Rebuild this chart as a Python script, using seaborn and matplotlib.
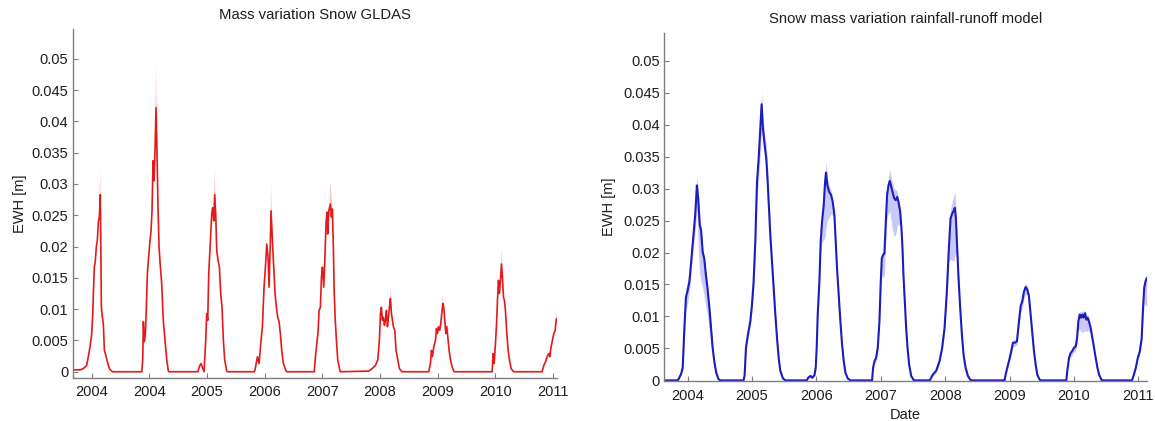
import numpy as np
import seaborn as sns
import matplotlib
matplotlib.use("Agg")
import matplotlib.pyplot as plt
from matplotlib.ticker import FuncFormatter

nan = np.nan

# ---- GLDAS snow (left panel), decimal years ----
gldas_year = [
    2002.67, 2002.80, 2002.855, 2002.913, 2002.942, 2002.971, 2003.000, 2003.017, 2003.029,
    2003.046, 2003.064, 2003.081, 2003.098, 2003.116, 2003.133, 2003.150, 2003.168, 2003.185,
    2003.202, 2003.220, 2003.243, 2003.272, 2003.306, 2003.347, 2003.36,
    2003.87, 2003.885, 2003.896, 2003.913, 2003.931, 2003.948, 2003.965, 2003.983, 2004.012,
    2004.029, 2004.046, 2004.064, 2004.081, 2004.098, 2004.116, 2004.133, 2004.150, 2004.168,
    2004.185, 2004.214, 2004.243, 2004.272, 2004.301, 2004.329, 2004.34,
    2004.84, 2004.875, 2004.895, 2004.92, 2004.948, 2004.977, 2004.994, 2005.012, 2005.029,
    2005.046, 2005.064, 2005.081, 2005.098, 2005.116, 2005.133, 2005.150, 2005.168, 2005.191,
    2005.214, 2005.237, 2005.260, 2005.283, 2005.306, 2005.341, 2005.36,
    2005.82, 2005.832, 2005.873, 2005.902, 2005.936, 2005.960, 2005.988, 2006.012, 2006.035,
    2006.058, 2006.075, 2006.098, 2006.110, 2006.133, 2006.156, 2006.179, 2006.202, 2006.225,
    2006.249, 2006.272, 2006.295, 2006.324, 2006.370, 2006.38,
    2006.86, 2006.879, 2006.908, 2006.925, 2006.942, 2006.965, 2006.983, 2007.000, 2007.023,
    2007.040, 2007.064, 2007.081, 2007.092, 2007.110, 2007.139, 2007.156, 2007.173, 2007.191,
    2007.202, 2007.220, 2007.243, 2007.266, 2007.301, 2007.31,
    2007.803, 2007.861, 2007.919, 2007.960, 2007.988, 2008.006, 2008.023, 2008.040, 2008.058,
    2008.075, 2008.092, 2008.110, 2008.127, 2008.145, 2008.162, 2008.179, 2008.197, 2008.214,
    2008.231, 2008.254, 2008.277, 2008.306, 2008.335, 2008.370, 2008.38,
    2008.844, 2008.873, 2008.890, 2008.908, 2008.931, 2008.960, 2008.977, 2008.994, 2009.012,
    2009.035, 2009.052, 2009.069, 2009.087, 2009.104, 2009.121, 2009.139, 2009.156, 2009.173,
    2009.197, 2009.220, 2009.249, 2009.277, 2009.29,
    2009.942, 2009.960, 2009.977, 2010.000, 2010.017, 2010.035, 2010.052, 2010.069, 2010.087,
    2010.104, 2010.121, 2010.139, 2010.156, 2010.173, 2010.197, 2010.220, 2010.243, 2010.272,
    2010.306, 2010.32,
    2010.809, 2010.838, 2010.867, 2010.896, 2010.925, 2010.942, 2010.965, 2010.988, 2011.012,
    2011.035, 2011.047, 2011.058,
]
gldas_ewh = [
    0.0003, 0.0003, 0.0005, 0.0010, 0.0024, 0.0040, 0.0060, 0.0090, 0.0125,
    0.0167, 0.0178, 0.0200, 0.0210, 0.0240, 0.0247, 0.0283, 0.0103, 0.0087,
    0.0077, 0.0034, 0.0027, 0.0016, 0.0005, 0.0001, 0.0,
    0.0, 0.0020, 0.0080, 0.0048, 0.0060, 0.0103, 0.0156, 0.0178, 0.0210,
    0.0225, 0.0257, 0.0337, 0.0305, 0.0353, 0.0422, 0.0347, 0.0262, 0.0199,
    0.0175, 0.0140, 0.0080, 0.0050, 0.0019, 0.0001, 0.0,
    0.0, 0.0010, 0.0013, 0.0007, 0.0000, 0.0050, 0.0093, 0.0082, 0.0156,
    0.0188, 0.0220, 0.0252, 0.0262, 0.0241, 0.0283, 0.0252, 0.0194, 0.0178,
    0.0167, 0.0125, 0.0103, 0.0050, 0.0019, 0.0001, 0.0,
    0.0, 0.0003, 0.0024, 0.0013, 0.0050, 0.0072, 0.0135, 0.0167, 0.0204,
    0.0183, 0.0135, 0.0210, 0.0257, 0.0210, 0.0167, 0.0125, 0.0103, 0.0087,
    0.0080, 0.0060, 0.0034, 0.0013, 0.0001, 0.0,
    0.0, 0.0024, 0.0050, 0.0064, 0.0098, 0.0103, 0.0151, 0.0167, 0.0135,
    0.0172, 0.0240, 0.0255, 0.0220, 0.0257, 0.0268, 0.0247, 0.0260, 0.0194,
    0.0135, 0.0087, 0.0050, 0.0019, 0.0003, 0.0,
    0.0001, 0.0005, 0.0010, 0.0019, 0.0050, 0.0093, 0.0103, 0.0082, 0.0087,
    0.0074, 0.0082, 0.0098, 0.0072, 0.0087, 0.0103, 0.0117, 0.0093, 0.0082,
    0.0072, 0.0066, 0.0034, 0.0019, 0.0005, 0.0001, 0.0,
    0.0, 0.0013, 0.0034, 0.0024, 0.0040, 0.0050, 0.0069, 0.0061, 0.0072,
    0.0066, 0.0077, 0.0093, 0.0109, 0.0103, 0.0082, 0.0061, 0.0072, 0.0056,
    0.0034, 0.0019, 0.0008, 0.0001, 0.0,
    0.0, 0.0029, 0.0013, 0.0045, 0.0072, 0.0114, 0.0146, 0.0125, 0.0146,
    0.0172, 0.0151, 0.0119, 0.0114, 0.0098, 0.0061, 0.0034, 0.0019, 0.0005,
    0.0001, 0.0,
    0.0, 0.0010, 0.0016, 0.0024, 0.0029, 0.0024, 0.0040, 0.0050, 0.0061,
    0.0066, 0.0077, 0.0085,
]
# uncertainty spikes around the GLDAS peaks (nan separates the spikes)
gldas_band_year = [2003.12, 2003.150, 2003.175, nan, 2004.085, 2004.116, 2004.150, nan,
                   2005.110, 2005.133, 2005.160, nan, 2006.090, 2006.110, 2006.140, nan,
                   2007.115, 2007.139, 2007.180, nan, 2008.160, 2008.179, 2008.200, nan,
                   2009.070, 2009.087, 2009.110, nan, 2010.085, 2010.104, 2010.125, nan,
                   2011.040, 2011.058]
gldas_band_lo = [0.0235, 0.0265, 0.0092, nan, 0.030, 0.039, 0.025, nan,
                 0.024, 0.0265, 0.022, nan, 0.020, 0.024, 0.019, nan,
                 0.025, 0.025, 0.024, nan, 0.0100, 0.0110, 0.0090, nan,
                 0.0090, 0.0100, 0.0095, nan, 0.0140, 0.0160, 0.0145, nan,
                 0.0072, 0.0080]
gldas_band_hi = [0.0245, 0.0325, 0.0100, nan, 0.0320, 0.0490, 0.0275, nan,
                 0.0250, 0.0325, 0.0230, nan, 0.0210, 0.0300, 0.0200, nan,
                 0.0260, 0.0305, 0.0255, nan, 0.0105, 0.0135, 0.0095, nan,
                 0.0095, 0.0125, 0.0100, nan, 0.0150, 0.0200, 0.0150, nan,
                 0.0080, 0.0095]
gldas_ticks = [2003, 2004, 2005, 2006, 2007, 2008, 2009, 2010, 2011]
gldas_tick_labels = ["2004", "2004", "2005", "2006", "2007", "2008", "2009", "2010", "2011"]

# ---- rainfall-runoff model snow (right panel) ----
model_year = [
    2003.64, 2003.85, 2003.90, 2003.925, 2003.95, 2003.975, 2004.00, 2004.03, 2004.06,
    2004.09, 2004.12, 2004.145, 2004.165, 2004.19, 2004.21, 2004.235, 2004.26, 2004.285,
    2004.31, 2004.34, 2004.365, 2004.39, 2004.415, 2004.445, 2004.48, 2004.51,
    2004.87, 2004.886, 2004.907, 2004.938, 2004.974, 2005.00, 2005.026, 2005.052, 2005.078,
    2005.104, 2005.130, 2005.150, 2005.171, 2005.197, 2005.223, 2005.244, 2005.264, 2005.285,
    2005.311, 2005.337, 2005.363, 2005.389, 2005.415, 2005.440, 2005.482, 2005.518,
    2005.85, 2005.88, 2005.91, 2005.935, 2005.97, 2005.99, 2006.005, 2006.021, 2006.047,
    2006.067, 2006.088, 2006.114, 2006.135, 2006.150, 2006.171, 2006.197, 2006.228, 2006.254,
    2006.280, 2006.301, 2006.321, 2006.347, 2006.373, 2006.399, 2006.425, 2006.451, 2006.487,
    2006.528,
    2006.865, 2006.881, 2006.902, 2006.927, 2006.953, 2006.979, 2007.000, 2007.016, 2007.036,
    2007.057, 2007.078, 2007.098, 2007.119, 2007.140, 2007.161, 2007.181, 2007.207, 2007.233,
    2007.254, 2007.275, 2007.301, 2007.321, 2007.337, 2007.352, 2007.373, 2007.394, 2007.415,
    2007.440, 2007.472, 2007.513,
    2007.76, 2007.808, 2007.860, 2007.912, 2007.953, 2007.990, 2008.026, 2008.057, 2008.083,
    2008.109, 2008.135, 2008.150, 2008.166, 2008.187, 2008.207, 2008.233, 2008.259, 2008.285,
    2008.316, 2008.352, 2008.389, 2008.42,
    2008.922, 2008.938, 2008.964, 2008.990, 2009.026, 2009.052, 2009.088, 2009.114, 2009.145,
    2009.171, 2009.197, 2009.223, 2009.249, 2009.275, 2009.301, 2009.326, 2009.352, 2009.378,
    2009.404, 2009.430, 2009.466, 2009.49,
    2009.881, 2009.896, 2009.922, 2009.948, 2009.974, 2010.000, 2010.026, 2010.047, 2010.067,
    2010.088, 2010.109, 2010.130, 2010.150, 2010.171, 2010.192, 2010.212, 2010.233, 2010.259,
    2010.285, 2010.311, 2010.337, 2010.363, 2010.389, 2010.425, 2010.45,
    2010.90, 2010.93, 2010.96, 2010.99, 2011.02, 2011.05, 2011.07, 2011.09, 2011.11, 2011.13,
]
model_ewh = [
    0.0, 0.0, 0.0010, 0.0020, 0.0080, 0.0130, 0.0140, 0.0155, 0.0190,
    0.0225, 0.0260, 0.0305, 0.0285, 0.0243, 0.0235, 0.0201, 0.0190, 0.0165,
    0.0144, 0.0113, 0.0082, 0.0051, 0.0030, 0.0012, 0.0002, 0.0,
    0.0, 0.0008, 0.0051, 0.0072, 0.0092, 0.0118, 0.0155, 0.0217, 0.0310,
    0.0347, 0.0394, 0.0432, 0.0394, 0.0368, 0.0347, 0.0310, 0.0269, 0.0227,
    0.0186, 0.0144, 0.0103, 0.0066, 0.0035, 0.0015, 0.0003, 0.0,
    0.0, 0.0005, 0.0007, 0.0004, 0.0008, 0.0020, 0.0051, 0.0103, 0.0155,
    0.0217, 0.0248, 0.0274, 0.0310, 0.0325, 0.0305, 0.0295, 0.0290, 0.0279,
    0.0259, 0.0217, 0.0175, 0.0134, 0.0092, 0.0056, 0.0030, 0.0012, 0.0003,
    0.0,
    0.0, 0.0020, 0.0030, 0.0035, 0.0051, 0.0092, 0.0155, 0.0191, 0.0196,
    0.0199, 0.0248, 0.0290, 0.0305, 0.0312, 0.0303, 0.0295, 0.0285, 0.0282,
    0.0287, 0.0279, 0.0264, 0.0238, 0.0207, 0.0165, 0.0124, 0.0082, 0.0051,
    0.0025, 0.0007, 0.0,
    0.0, 0.0009, 0.0015, 0.0030, 0.0051, 0.0082, 0.0139, 0.0207, 0.0253,
    0.0261, 0.0266, 0.0270, 0.0253, 0.0207, 0.0160, 0.0113, 0.0072, 0.0040,
    0.0020, 0.0007, 0.0001, 0.0,
    0.0, 0.0009, 0.0020, 0.0030, 0.0046, 0.0059, 0.0059, 0.0061, 0.0092,
    0.0116, 0.0124, 0.0139, 0.0146, 0.0142, 0.0131, 0.0103, 0.0072, 0.0046,
    0.0025, 0.0009, 0.0001, 0.0,
    0.0, 0.0015, 0.0035, 0.0043, 0.0046, 0.0051, 0.0053, 0.0066, 0.0092,
    0.0103, 0.0098, 0.0103, 0.0098, 0.0105, 0.0095, 0.0098, 0.0092, 0.0082,
    0.0066, 0.0051, 0.0035, 0.0020, 0.0009, 0.0001, 0.0,
    0.0, 0.0009, 0.0020, 0.0035, 0.0045, 0.0065, 0.0110, 0.0145, 0.0155, 0.0160,
]
model_lo = [
    0.0, 0.0, 0.0008, 0.0015, 0.0060, 0.0110, 0.0120, 0.0140, 0.0175,
    0.0205, 0.0235, 0.0270, 0.0210, 0.0165, 0.0155, 0.0145, 0.0130, 0.0115,
    0.0100, 0.0075, 0.0055, 0.0033, 0.0018, 0.0006, 0.0, 0.0,
    0.0, 0.0005, 0.0045, 0.0066, 0.0085, 0.0108, 0.0140, 0.0195, 0.0280,
    0.0315, 0.0355, 0.0390, 0.0375, 0.0350, 0.0330, 0.0298, 0.0260, 0.0220,
    0.0180, 0.0140, 0.0100, 0.0063, 0.0033, 0.0014, 0.0002, 0.0,
    0.0, 0.0004, 0.0005, 0.0003, 0.0006, 0.0015, 0.0045, 0.0095, 0.0145,
    0.0195, 0.0215, 0.0220, 0.0225, 0.0240, 0.0250, 0.0255, 0.0260, 0.0258,
    0.0245, 0.0205, 0.0165, 0.0126, 0.0086, 0.0050, 0.0026, 0.0009, 0.0002,
    0.0,
    0.0, 0.0017, 0.0026, 0.0030, 0.0045, 0.0085, 0.0140, 0.0165, 0.0160,
    0.0165, 0.0220, 0.0255, 0.0260, 0.0265, 0.0250, 0.0235, 0.0225, 0.0228,
    0.0240, 0.0245, 0.0240, 0.0222, 0.0195, 0.0156, 0.0117, 0.0077, 0.0047,
    0.0022, 0.0005, 0.0,
    0.0, 0.0007, 0.0012, 0.0026, 0.0046, 0.0075, 0.0128, 0.0185, 0.0190,
    0.0188, 0.0186, 0.0195, 0.0200, 0.0180, 0.0148, 0.0106, 0.0068, 0.0037,
    0.0017, 0.0005, 0.0, 0.0,
    0.0, 0.0007, 0.0017, 0.0026, 0.0040, 0.0052, 0.0054, 0.0056, 0.0084,
    0.0104, 0.0113, 0.0128, 0.0135, 0.0134, 0.0125, 0.0098, 0.0068, 0.0043,
    0.0022, 0.0007, 0.0, 0.0,
    0.0, 0.0012, 0.0030, 0.0037, 0.0040, 0.0045, 0.0047, 0.0058, 0.0078,
    0.0080, 0.0076, 0.0075, 0.0076, 0.0078, 0.0076, 0.0078, 0.0076, 0.0072,
    0.0060, 0.0047, 0.0032, 0.0018, 0.0007, 0.0, 0.0,
    0.0, 0.0007, 0.0017, 0.0031, 0.0040, 0.0058, 0.0095, 0.0120, 0.0118, 0.0115,
]
model_hi = [
    0.0, 0.0, 0.0015, 0.0040, 0.0105, 0.0145, 0.0155, 0.0175, 0.0210,
    0.0245, 0.0285, 0.0320, 0.0300, 0.0250, 0.0240, 0.0205, 0.0195, 0.0170,
    0.0148, 0.0116, 0.0085, 0.0054, 0.0032, 0.0014, 0.0004, 0.0,
    0.0, 0.0012, 0.0058, 0.0078, 0.0100, 0.0126, 0.0165, 0.0228, 0.0322,
    0.0360, 0.0410, 0.0452, 0.0410, 0.0385, 0.0368, 0.0330, 0.0288, 0.0245,
    0.0200, 0.0156, 0.0113, 0.0073, 0.0040, 0.0018, 0.0004, 0.0,
    0.0, 0.0006, 0.0008, 0.0005, 0.0010, 0.0025, 0.0058, 0.0112, 0.0165,
    0.0225, 0.0256, 0.0285, 0.0322, 0.0342, 0.0318, 0.0305, 0.0298, 0.0285,
    0.0264, 0.0222, 0.0180, 0.0138, 0.0096, 0.0060, 0.0034, 0.0015, 0.0004,
    0.0,
    0.0, 0.0023, 0.0034, 0.0040, 0.0058, 0.0100, 0.0165, 0.0198, 0.0202,
    0.0208, 0.0256, 0.0300, 0.0318, 0.0330, 0.0318, 0.0310, 0.0300, 0.0298,
    0.0296, 0.0286, 0.0270, 0.0243, 0.0212, 0.0170, 0.0128, 0.0086, 0.0054,
    0.0028, 0.0009, 0.0,
    0.0, 0.0011, 0.0018, 0.0034, 0.0057, 0.0090, 0.0148, 0.0218, 0.0268,
    0.0280, 0.0290, 0.0295, 0.0275, 0.0222, 0.0170, 0.0120, 0.0078, 0.0046,
    0.0026, 0.0011, 0.0003, 0.0,
    0.0, 0.0011, 0.0023, 0.0034, 0.0050, 0.0063, 0.0064, 0.0066, 0.0097,
    0.0121, 0.0130, 0.0146, 0.0152, 0.0148, 0.0137, 0.0108, 0.0077, 0.0050,
    0.0029, 0.0012, 0.0002, 0.0,
    0.0, 0.0018, 0.0040, 0.0048, 0.0052, 0.0057, 0.0059, 0.0072, 0.0098,
    0.0108, 0.0106, 0.0110, 0.0106, 0.0110, 0.0102, 0.0103, 0.0097, 0.0087,
    0.0070, 0.0055, 0.0038, 0.0023, 0.0011, 0.0002, 0.0,
    0.0, 0.0011, 0.0023, 0.0040, 0.0050, 0.0072, 0.0118, 0.0152, 0.0162, 0.0166,
]
model_ticks = [2004, 2005, 2006, 2007, 2008, 2009, 2010, 2011]
model_tick_labels = ["2004", "2005", "2006", "2007", "2008", "2009", "2010", "2011"]

ewh_ticks = [0, 0.005, 0.01, 0.015, 0.02, 0.025, 0.03, 0.035, 0.04, 0.045, 0.05]

sns.set_style("ticks")
plt.rcParams["font.family"] = ["Liberation Sans", "DejaVu Sans"]

axis_grey = "#7f7f7f"
text_col = "#1e1e1e"

fig = plt.figure(figsize=(11.55, 4.21), dpi=100)
ax1 = fig.add_axes([0.0629, 0.1014, 0.4190, 0.8290])
ax2 = fig.add_axes([0.5752, 0.0950, 0.4177, 0.8259])

# left: GLDAS
ax1.fill_between(gldas_band_year, gldas_band_lo, gldas_band_hi,
                 color="#f7cccc", linewidth=0, zorder=1)
sns.lineplot(x=gldas_year, y=gldas_ewh, ax=ax1, color="#e41a1a",
             linewidth=1.2, estimator=None, zorder=2)
ax1.set_xlim(2002.67, 2011.06)
ax1.set_ylim(-0.00105, 0.0547)
ax1.set_xticks(gldas_ticks)
ax1.set_xticklabels(gldas_tick_labels)
ax1.set_title("Mass variation Snow GLDAS", fontsize=10.7, color=text_col, pad=7.5)
ax1.set_ylabel("EWH [m]", fontsize=10.5, color=text_col)
ax1.yaxis.set_label_coords(-0.095, 0.5)

# right: rainfall-runoff model
ax2.fill_between(model_year, model_lo, model_hi, color="#c9c9f6",
                 linewidth=0, zorder=1)
sns.lineplot(x=model_year, y=model_ewh, ax=ax2, color="#1c1cbf",
             linewidth=1.5, estimator=None, zorder=2)
ax2.set_xlim(2003.64, 2011.13)
ax2.set_ylim(-0.0001, 0.0543)
ax2.set_xticks(model_ticks)
ax2.set_xticklabels(model_tick_labels)
ax2.set_title("Snow mass variation rainfall-runoff model", fontsize=10.7,
              color=text_col, pad=7.5)
ax2.set_ylabel("EWH [m]", fontsize=10.5, color=text_col)
ax2.yaxis.set_label_coords(-0.10, 0.5)
ax2.set_xlabel("Date", fontsize=10.5, color=text_col, labelpad=3)

for ax in (ax1, ax2):
    ax.set_yticks(ewh_ticks)
    ax.yaxis.set_major_formatter(FuncFormatter(lambda v, p: "{:g}".format(round(v, 3))))
    for side in ("top", "right"):
        ax.spines[side].set_visible(False)
    for side in ("left", "bottom"):
        ax.spines[side].set_color(axis_grey)
        ax.spines[side].set_linewidth(1.0)
    ax.tick_params(axis="both", direction="in", length=3.5, width=0.8,
                   color=axis_grey, labelsize=10.5, labelcolor=text_col)
    ax.tick_params(axis="y", pad=3.2)

ax1.tick_params(axis="x", pad=5.0)
ax2.tick_params(axis="x", pad=6.0)

fig.savefig("out.png", dpi=100)
